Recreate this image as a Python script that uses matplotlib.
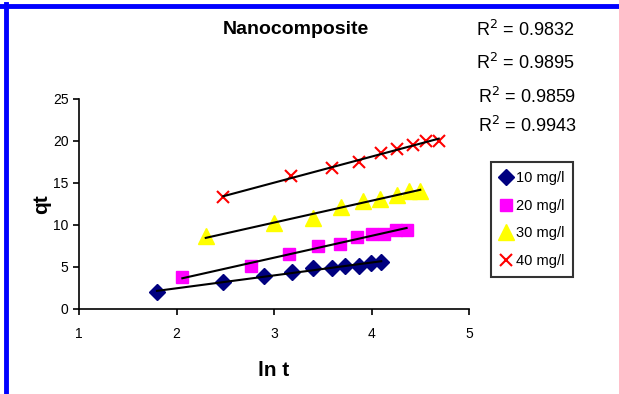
import numpy as np
import matplotlib
matplotlib.use("Agg")
import matplotlib.pyplot as plt
from matplotlib.lines import Line2D

plt.rcParams['font.family'] = ['Liberation Sans', 'DejaVu Sans']

# Data
x10 = [1.80, 2.48, 2.90, 3.18, 3.40, 3.59, 3.73, 3.87, 3.99, 4.10]
y10 = [1.98, 3.25, 3.92, 4.40, 4.87, 4.87, 5.15, 5.15, 5.43, 5.63]
x20 = [2.06, 2.76, 3.15, 3.45, 3.68, 3.85, 4.00, 4.13, 4.25, 4.36]
y20 = [3.76, 5.15, 6.50, 7.49, 7.77, 8.52, 8.95, 8.95, 9.39, 9.39]
x30 = [2.30, 3.00, 3.40, 3.69, 3.91, 4.09, 4.26, 4.38, 4.50]
y30 = [8.70, 10.20, 10.86, 12.10, 12.80, 13.10, 13.60, 14.10, 14.10]
x40 = [2.48, 3.17, 3.59, 3.87, 4.10, 4.26, 4.43, 4.56, 4.69]
y40 = [13.31, 15.81, 16.76, 17.55, 18.54, 19.06, 19.57, 20.05, 19.97]

labels = ['10 mg/l', '20 mg/l', '30 mg/l', '40 mg/l']
r2_texts = ['R$^2$ = 0.9832', 'R$^2$ = 0.9895', 'R$^2$ = 0.9859', 'R$^2$ = 0.9943']
x_ticks = [1, 2, 3, 4, 5]
y_ticks = [0, 5, 10, 15, 20, 25]

series = [
    (x10, y10, dict(marker='D', color='#000080', markersize=8, linestyle='none')),
    (x20, y20, dict(marker='s', color='#ff00ff', markersize=9, linestyle='none')),
    (x30, y30, dict(marker='^', color='#ffff00', markersize=11, linestyle='none')),
    (x40, y40, dict(marker='x', color='#ff0000', markersize=8, markeredgewidth=1.5, linestyle='none')),
]

W, H = 619, 394
fig = plt.figure(figsize=(W / 100, H / 100), dpi=100)
ax = fig.add_axes([79 / W, 1 - 309 / H, (469 - 79) / W, (309 - 99) / H])

handles = []
for (xs, ys, st), lab in zip(series, labels):
    h, = ax.plot(xs, ys, label=lab, zorder=3, **st)
    handles.append(h)
    p = np.polyfit(xs, ys, 1)
    xx = np.array([min(xs), max(xs)])
    ax.plot(xx, np.polyval(p, xx), color='black', lw=1.5, zorder=4)

ax.set_xlim(1, 5)
ax.set_ylim(0, 25)
ax.set_xticks(x_ticks)
ax.set_yticks(y_ticks)
for s in ['top', 'right']:
    ax.spines[s].set_visible(False)
for s in ['left', 'bottom']:
    ax.spines[s].set_linewidth(1.2)
ax.tick_params(direction='out', length=4, width=1.2, labelsize=10)
ax.tick_params(axis='x', pad=9)

ax.set_xlabel('ln t', fontsize=15, fontweight='bold', labelpad=14)
ax.set_ylabel('qt', fontsize=15, fontweight='bold', labelpad=1)

fig.text(296 / W, 1 - 30 / H, 'Nanocomposite', fontsize=14, fontweight='bold',
         ha='center', va='center')

r2_y = [30, 63, 97, 126]
r2_x = [476, 476, 478, 478]
for t, yy, xx in zip(r2_texts, r2_y, r2_x):
    fig.text(xx / W, 1 - yy / H, t, fontsize=13, ha='left', va='center')

leg = fig.legend(handles=handles, labels=labels, loc='upper left',
                 bbox_to_anchor=(491 / W, 1 - 162 / H), frameon=True,
                 fontsize=10.5, handlelength=0.8, handletextpad=0.3,
                 labelspacing=0.95, borderpad=0.6, borderaxespad=0,
                 fancybox=False)
leg.get_frame().set_edgecolor('black')
leg.get_frame().set_linewidth(1.5)

# blue frame on top and left
fig.add_artist(Line2D([0, 1], [1 - 6 / H, 1 - 6 / H], transform=fig.transFigure,
                      color='#0000ff', lw=3.5))
fig.add_artist(Line2D([6 / W, 6 / W], [0, 1 - 4 / H], transform=fig.transFigure,
                      color='#0000ff', lw=3.5))

fig.savefig('out.png', dpi=100)
